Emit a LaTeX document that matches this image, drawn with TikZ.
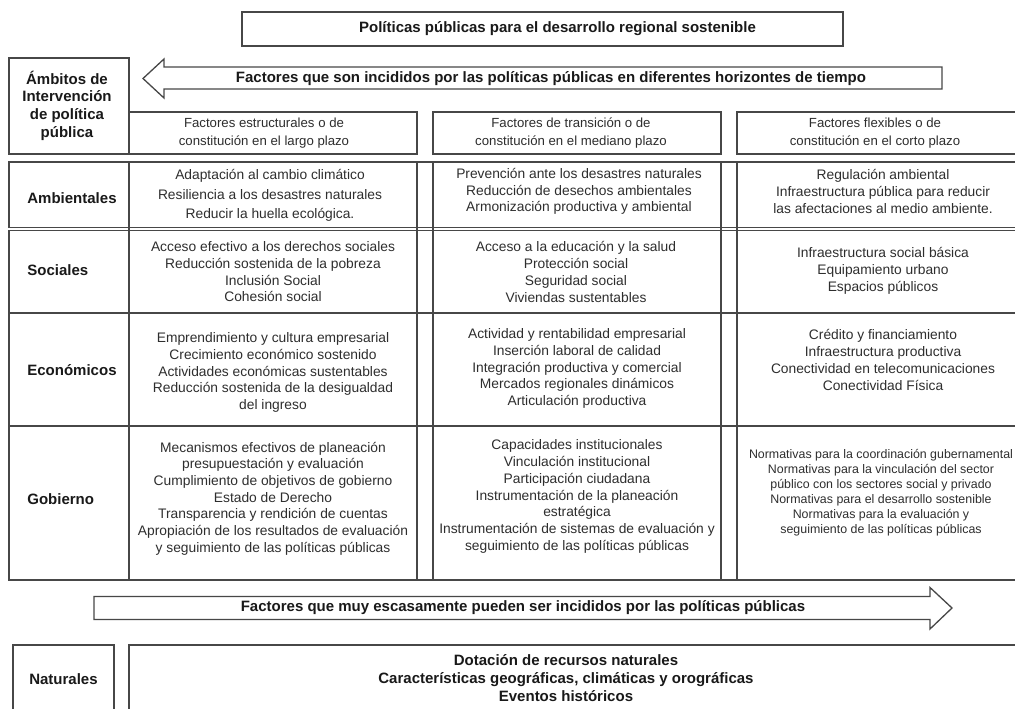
\documentclass[tikz,border=0pt]{standalone}
\usepackage{fontspec}
\setmainfont{Liberation Sans}

\tikzset{every picture/.style={line width=1.3pt}}
\tikzset{
  frm/.style={draw=black!72, line width=1.3pt},
  cell/.style={align=center, inner sep=0.75pt, text=black!82, font=\fontsize{13.8}{16.7}\selectfont},
  small/.style={align=center, inner sep=0.75pt, text=black!82, font=\fontsize{12.4}{15}\selectfont},
  hdr/.style={align=center, inner sep=0.75pt, text=black!82, font=\fontsize{13.2}{17.5}\selectfont},
  bld/.style={align=center, inner sep=0.75pt, text=black!90, font=\bfseries\fontsize{15}{18}\selectfont},
}

\begin{document}
\begin{tikzpicture}[x=1pt,y=1pt,yscale=-1]

\clip (0,0) rectangle (1015,709) ;
\fill [white] (0,0) rectangle (1015,709) ;

% title and upper arrow
\draw  [frm]  (242,12) -- (843,12) -- (843,46) -- (242,46) -- cycle ;
\draw  [frm]  (143,78.5) -- (164,59) -- (164,67) -- (942,67) -- (942,89) -- (164,89) -- (164,98) -- cycle ;

% heads of the table
\draw  [frm]  (9,58) -- (129,58) -- (129,154) -- (9,154) -- cycle ;
\draw  [frm]  (129,112) -- (417,112) -- (417,154) -- (129,154) -- cycle ;
\draw  [frm]  (433,112) -- (721,112) -- (721,154) -- (433,154) -- cycle ;
\draw  [frm]  (737,112) -- (1030,112) -- (1030,154) -- (737,154) -- cycle ;

% rows
\draw  [frm]  (9,162) -- (1030,162) -- (1030,227.5) -- (9,227.5) -- cycle ;
\draw  [frm]  (9,230.5) -- (1030,230.5) -- (1030,313) -- (9,313) -- cycle ;
\draw  [frm]  (9,313) -- (1030,313) -- (1030,426) -- (9,426) -- cycle ;
\draw  [frm]  (9,426) -- (1030,426) -- (1030,580) -- (9,580) -- cycle ;

\draw  [frm]  (129,162) -- (129,580) ;
\draw  [frm]  (417,162) -- (417,580) ;
\draw  [frm]  (433,162) -- (433,580) ;
\draw  [frm]  (721,162) -- (721,580) ;
\draw  [frm]  (737,162) -- (737,580) ;

% lower arrow and natural factors
\draw  [frm]  (94,596.5) -- (930,596.5) -- (930,587.5) -- (952,608) -- (930,629) -- (930,619.5) -- (94,619.5) -- cycle ;
\draw  [frm]  (13,645) -- (114,645) -- (114,720) -- (13,720) -- cycle ;
\draw  [frm]  (129,645) -- (1030,645) -- (1030,720) -- (129,720) -- cycle ;

\draw (557.5,29) node (titulo) [bld]  {Políticas públicas para el desarrollo regional sostenible};
\draw (551,78.5) node (incididos) [bld]  {Factores que son incididos por las políticas públicas en diferentes horizontes de tiempo};
\draw (67,105.5) node (ambitos) [bld, font=\bfseries\fontsize{15}{17.7}\selectfont]  {Ámbitos de\\Intervención\\de política\\pública};

\draw (264,133) node (largo) [hdr]  {Factores estructurales o de\\constitución en el largo plazo};
\draw (571,133) node (mediano) [hdr]  {Factores de transición o de\\constitución en el mediano plazo};
\draw (875,133) node (corto) [hdr]  {Factores flexibles o de\\constitución en el corto plazo};

\draw (26,198) node (ambientales) [bld, anchor=west]  {Ambientales};
\draw (26,270) node (sociales) [bld, anchor=west]  {Sociales};
\draw (26,370) node (economicos) [bld, anchor=west]  {Económicos};
\draw (26,499) node (gobierno) [bld, anchor=west]  {Gobierno};

\draw (270,195.5) node (amblargo) [cell, font=\fontsize{13.8}{19.5}\selectfont]  {Adaptación al cambio climático\\Resiliencia a los desastres naturales\\Reducir la huella ecológica.};
\draw (579,191.5) node (ambmediano) [cell]  {Prevención ante los desastres naturales\\Reducción de desechos ambientales\\Armonización productiva y ambiental};
\draw (883,191.5) node (ambcorto) [cell]  {Regulación ambiental\\Infraestructura pública para reducir\\las afectaciones al medio ambiente.};

\draw (273,272) node (soclargo) [cell]  {Acceso efectivo a los derechos sociales\\Reducción sostenida de la pobreza\\Inclusión Social\\Cohesión social};
\draw (576,272) node (socmediano) [cell]  {Acceso a la educación y la salud\\Protección social\\Seguridad social\\Viviendas sustentables};
\draw (883,271) node (soccorto) [cell]  {Infraestructura social básica\\Equipamiento urbano\\Espacios públicos};

\draw (273,372.5) node (ecolargo) [cell]  {Emprendimiento y cultura empresarial\\Crecimiento económico sostenido\\Actividades económicas sustentables\\Reducción sostenida de la desigualdad\\del ingreso};
\draw (577,368.5) node (ecomediano) [cell]  {Actividad y rentabilidad empresarial\\Inserción laboral de calidad\\Integración productiva y comercial\\Mercados regionales dinámicos\\Articulación productiva};
\draw (883,360) node (ecocorto) [cell]  {Crédito y financiamiento\\Infraestructura productiva\\Conectividad en telecomunicaciones\\Conectividad Física};

\draw (273,498.5) node (goblargo) [cell]  {Mecanismos efectivos de planeación\\presupuestación y evaluación\\Cumplimiento de objetivos de gobierno\\Estado de Derecho\\Transparencia y rendición de cuentas\\Apropiación de los resultados de evaluación\\y seguimiento de las políticas públicas};
\draw (577,496.5) node (gobmediano) [cell]  {Capacidades institucionales\\Vinculación institucional\\Participación ciudadana\\Instrumentación de la planeación\\estratégica\\Instrumentación de sistemas de evaluación y\\seguimiento de las políticas públicas};
\draw (881,492.5) node (gobcorto) [small]  {Normativas para la coordinación gubernamental\\Normativas para la vinculación del sector\\público con los sectores social y privado\\Normativas para el desarrollo sostenible\\Normativas para la evaluación y\\seguimiento de las políticas públicas};

\draw (523,608) node (escasamente) [bld]  {Factores que muy escasamente pueden ser incididos por las políticas públicas};
\draw (63.5,679) node (naturales) [bld]  {Naturales};
\draw (566,678) node (dotacion) [bld]  {Dotación de recursos naturales\\Características geográficas, climáticas y orográficas\\Eventos históricos};

\end{tikzpicture}
\end{document}
